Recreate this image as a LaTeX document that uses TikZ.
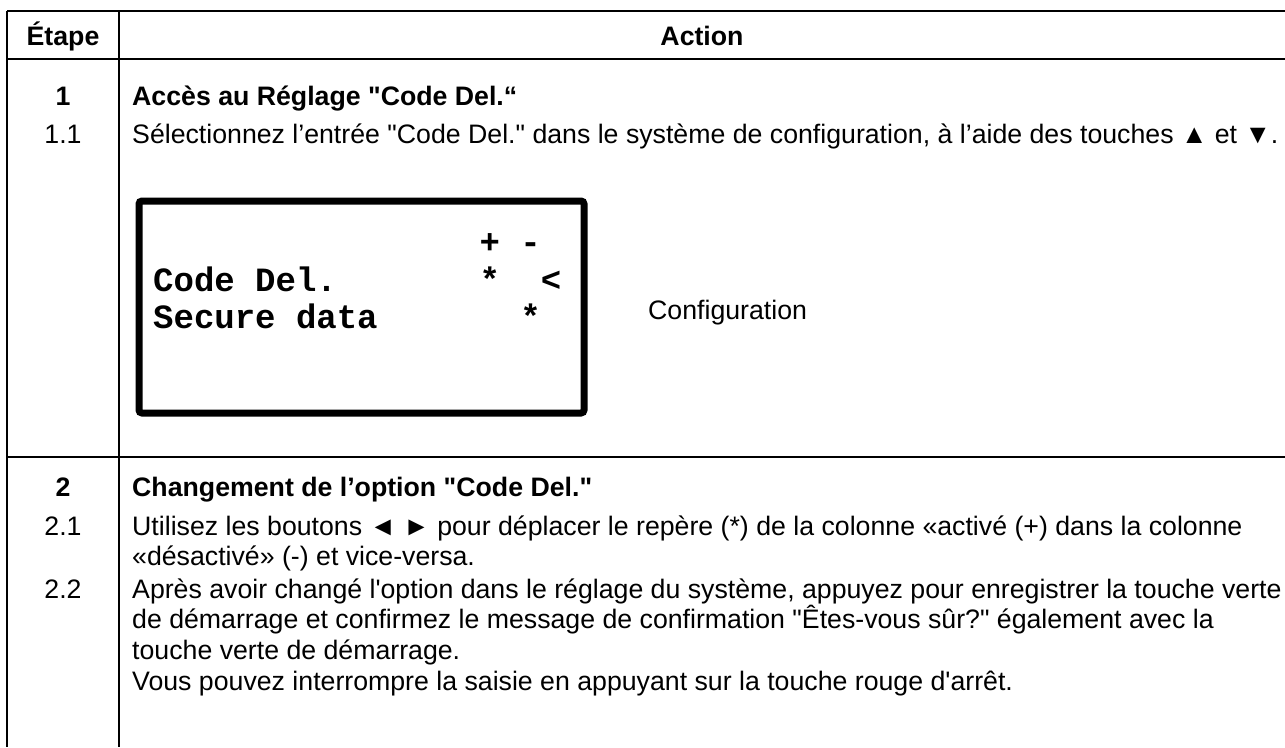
\documentclass[tikz,border=0pt]{standalone}
\usepackage{fontspec}
\setmainfont{Liberation Sans}[Ligatures=TeXOff]
\newfontfamily\lcdfont{Liberation Mono}[Ligatures=TeXOff]
\usetikzlibrary{positioning}

\begin{document}
\begin{tikzpicture}[
    x=1pt, y=-1pt,
    rule_style/.style={line width=1.8pt},
    screen_style/.style={line width=7pt, rounded corners=3pt},
    head_style/.style={font=\fontsize{26.7}{30.7}\selectfont\bfseries, inner sep=0pt, anchor=base},
    step_num/.style={font=\fontsize{26.7}{30.7}\selectfont, inner sep=0pt, anchor=base},
    step_text/.style={font=\fontsize{26.7}{30.7}\selectfont, inner sep=0pt, anchor=base west, align=left},
    lcd_text/.style={font=\fontsize{34}{39}\selectfont\lcdfont\bfseries, inner sep=0pt, anchor=base west}
]
    \useasboundingbox (0,0) rectangle (1285,747);

    \coordinate (top_left) at (7,11);
    \coordinate (top_mid) at (119,11);
    \coordinate (top_right) at (1285,11);
    \coordinate (bot_left) at (7,747);
    \coordinate (bot_mid) at (119,747);

    % Table rules
    \draw[rule_style] (top_left) -- (top_right);
    \draw[rule_style] (7,59) -- (1285,59);
    \draw[rule_style] (7,457) -- (1285,457);
    \draw[rule_style] (top_left) -- (bot_left);
    \draw[rule_style] (top_mid) -- (bot_mid);

    % Header
    \node[head_style] (etape) at (63,45) {Étape};
    \node[head_style] (action) at (702,45) {Action};

    % Step 1
    \node[head_style] (num_1) at (63,105) {1};
    \node[step_text, font=\fontsize{26.7}{30.7}\selectfont\bfseries] (text_1) at (132,105) {Accès au Réglage "Code Del.“};
    \node[step_num] (num_11) at (63,143) {1.1};
    \node[step_text] (text_11) at (132,143) {Sélectionnez l’entrée "Code Del." dans le système de configuration, à l’aide des touches ▲ et ▼.};

    % Display
    \draw[screen_style] (139,201) rectangle (584,413);
    \node[lcd_text] (lcd_1) at (153,253) {\phantom{Code Del.~~~~~~~}+ -};
    \node[lcd_text] (lcd_2) at (153,291) {Code Del.~~~~~~~*~~<};
    \node[lcd_text] (lcd_3) at (153,328) {Secure data~~~~~~~*};
    \node[step_text] (config) at (648,319) {Configuration};

    % Step 2
    \node[head_style] (num_2) at (63,496) {2};
    \node[step_text, font=\fontsize{26.7}{30.7}\selectfont\bfseries] (text_2) at (132,496) {Changement de l’option "Code Del."};
    \node[step_num] (num_21) at (63,535) {2.1};
    \node[step_text] (text_21) at (132,565.7) {Utilisez les boutons ◄ ► pour déplacer le repère (*) de la colonne «activé (+) dans la colonne\\«désactivé» (-) et vice-versa.};
    \node[step_num] (num_22) at (63,598) {2.2};
    \node[step_text] (text_22) at (132,690.1) {Après avoir changé l'option dans le réglage du système, appuyez pour enregistrer la touche verte\\de démarrage et confirmez le message de confirmation "Êtes-vous sûr?" également avec la\\touche verte de démarrage.\\Vous pouvez interrompre la saisie en appuyant sur la touche rouge d'arrêt.};

\end{tikzpicture}
\end{document}
